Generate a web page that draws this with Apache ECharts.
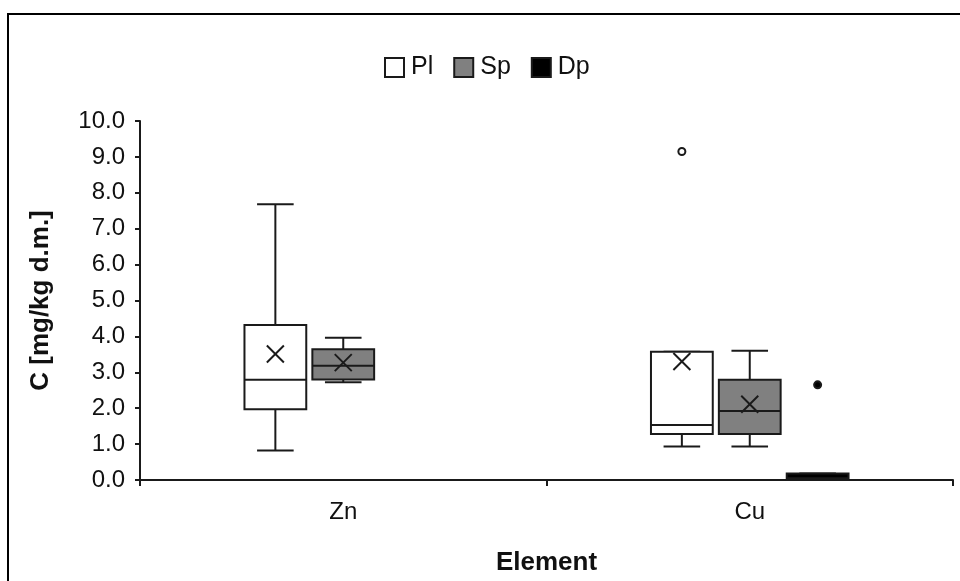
<!DOCTYPE html>
<html>
<head>
<meta charset="utf-8">
<script src="https://cdn.jsdelivr.net/npm/echarts@6/dist/echarts.min.js"></script>
<style>
  html, body { margin: 0; padding: 0; background: #fff; }
  #chart { width: 960px; height: 581px; }
</style>
</head>
<body>
<div id="chart"></div>
<script>
// categories on the x axis
const categories = ["Zn", "Cu"];
const yTicks = [0, 1, 2, 3, 4, 5, 6, 7, 8, 9, 10];

// box stats per element: [min, q1, median, q3, max]
const plBox = [[0.82, 1.97, 2.79, 4.32, 7.68], [0.93, 1.28, 1.53, 3.57, 3.57]];
const spBox = [[2.72, 2.8, 3.18, 3.64, 3.96], [0.93, 1.28, 1.92, 2.79, 3.6]];
const dpBox = [null, [0, 0, 0.05, 0.18, 0.18]];

// means (x markers); the Dp mean is hidden inside its black box
const plMean = [3.51, 3.3];
const spMean = [3.27, 2.11];
const dpMean = [null, null];

// outliers: [category index, value]
const plOutliers = [[1, 9.15]];
const spOutliers = [];
const dpOutliers = [[1, 2.65]];

const INK = "#1a1a1a";
const FONT = "Liberation Sans, Arial, sans-serif";

function boxData(box, mean) {
  const out = [];
  box.forEach((b, i) => {
    if (!b) return;
    out.push([i, b[0], b[1], b[2], b[3], b[4], mean[i] == null ? NaN : mean[i]]);
  });
  return out;
}

function boxRender(offset, fill) {
  return function (params, api) {
    const cat = api.value(0);
    const band = api.size([1, 0])[0];
    const cx = api.coord([cat, 0])[0] + band * offset;
    const w = band * 0.152;
    const cap = band * 0.045;
    const y = (v) => api.coord([cat, v])[1];
    const yMin = y(api.value(1)), yQ1 = y(api.value(2)), yMed = y(api.value(3));
    const yQ3 = y(api.value(4)), yMax = y(api.value(5));
    const ls = { stroke: INK, lineWidth: 2 };
    const children = [
      { type: "line", shape: { x1: cx, y1: yQ3, x2: cx, y2: yMax }, style: ls },
      { type: "line", shape: { x1: cx - cap, y1: yMax, x2: cx + cap, y2: yMax }, style: ls },
      { type: "line", shape: { x1: cx, y1: yQ1, x2: cx, y2: yMin }, style: ls },
      { type: "line", shape: { x1: cx - cap, y1: yMin, x2: cx + cap, y2: yMin }, style: ls },
      { type: "rect", shape: { x: cx - w / 2, y: yQ3, width: w, height: yQ1 - yQ3 },
        style: { fill: fill, stroke: INK, lineWidth: 2 } },
      { type: "line", shape: { x1: cx - w / 2, y1: yMed, x2: cx + w / 2, y2: yMed }, style: ls }
    ];
    const m = api.value(6);
    if (m != null && !isNaN(m)) {
      const ym = y(m), h = 8.5;
      children.push(
        { type: "line", shape: { x1: cx - h, y1: ym - h, x2: cx + h, y2: ym + h }, style: ls },
        { type: "line", shape: { x1: cx - h, y1: ym + h, x2: cx + h, y2: ym - h }, style: ls }
      );
    }
    return { type: "group", children: children };
  };
}

function outlierRender(offset, fill) {
  return function (params, api) {
    const cat = api.value(0);
    const band = api.size([1, 0])[0];
    const p = api.coord([cat, api.value(1)]);
    return {
      type: "circle",
      shape: { cx: p[0] + band * offset, cy: p[1], r: 3.5 },
      style: { fill: fill, stroke: INK, lineWidth: 2 }
    };
  };
}

const OFF = 0.167;
const groups = [
  { name: "Pl", box: plBox, mean: plMean, out: plOutliers, offset: -OFF, fill: "#ffffff" },
  { name: "Sp", box: spBox, mean: spMean, out: spOutliers, offset: 0, fill: "#808080" },
  { name: "Dp", box: dpBox, mean: dpMean, out: dpOutliers, offset: OFF, fill: "#000000" }
];

const series = [];
groups.forEach((g) => {
  series.push({
    name: g.name,
    type: "custom",
    renderItem: boxRender(g.offset, g.fill),
    encode: { x: 0, y: [1, 2, 3, 4, 5] },
    itemStyle: { color: g.fill },
    data: boxData(g.box, g.mean),
    z: 3
  });
  series.push({
    name: g.name,
    type: "custom",
    renderItem: outlierRender(g.offset, g.fill),
    encode: { x: 0, y: 1 },
    itemStyle: { color: g.fill },
    data: g.out,
    z: 3
  });
});

const legendItems = groups.map((g) => ({
  name: g.name,
  icon: "rect",
  itemStyle: { color: g.fill, borderColor: INK, borderWidth: 2 }
}));

const option = {
  animation: false,
  backgroundColor: "#ffffff",
  textStyle: { fontFamily: FONT },
  graphic: [
    {
      type: "rect",
      shape: { x: 8, y: 14, width: 980, height: 620 },
      style: { fill: null, stroke: "#000", lineWidth: 2 },
      silent: true
    }
  ],
  legend: {
    top: 50,
    left: 379,
    itemWidth: 19,
    itemHeight: 19,
    itemGap: 20,
    selectedMode: false,
    textStyle: { fontSize: 25, color: "#111", fontFamily: FONT, padding: [0, 0, 0, 2] },
    data: legendItems
  },
  grid: { left: 140, right: 7, top: 121, bottom: 101, outerBoundsMode: "none" },
  xAxis: {
    type: "category",
    data: categories,
    boundaryGap: true,
    name: "Element",
    nameLocation: "middle",
    nameGap: 70,
    nameTextStyle: { fontSize: 26, fontWeight: "bold", color: "#111", fontFamily: FONT },
    axisLine: { lineStyle: { color: INK, width: 2 } },
    axisTick: { show: true, length: 6, lineStyle: { color: INK, width: 2 } },
    axisLabel: { fontSize: 24, color: "#111", margin: 20, fontFamily: FONT },
    splitLine: { show: false }
  },
  yAxis: {
    type: "value",
    min: yTicks[0],
    max: yTicks[yTicks.length - 1],
    interval: 1,
    name: "C [mg/kg d.m.]",
    nameLocation: "middle",
    nameGap: 86,
    nameTextStyle: { fontSize: 26, fontWeight: "bold", color: "#111", fontFamily: FONT },
    axisLine: { show: true, lineStyle: { color: INK, width: 2 } },
    axisTick: { show: true, length: 5, lineStyle: { color: INK, width: 2 } },
    axisLabel: {
      fontSize: 24,
      color: "#111",
      margin: 15,
      fontFamily: FONT,
      formatter: (v) => v.toFixed(1)
    },
    splitLine: { show: false }
  },
  series: series
};

const chart = echarts.init(document.getElementById("chart"));
chart.setOption(option);
window.addEventListener("resize", () => chart.resize());
</script>
</body>
</html>
